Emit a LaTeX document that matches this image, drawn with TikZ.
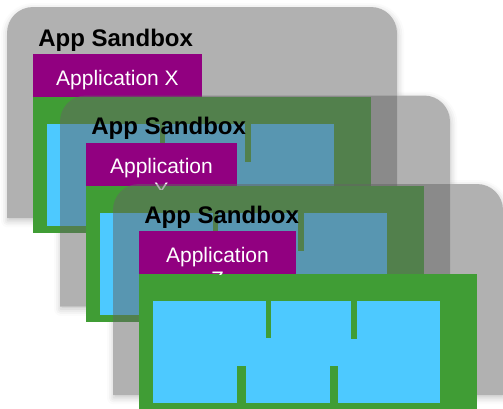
\documentclass[tikz,border=0pt]{standalone}
\usepackage{fontspec}
\setmainfont{Liberation Sans}
\usetikzlibrary{shadows.blur}

\definecolor{sandboxgray}{RGB}{100,100,100}
\definecolor{appmagenta}{RGB}{145,0,128}
\definecolor{regiongreen}{RGB}{64,157,53}
\definecolor{blockblue}{RGB}{77,201,255}

\tikzset{
  sandbox/.style={fill=sandboxgray, fill opacity=0.5},
  sandboxshadow/.style={blur shadow={shadow xshift=0.5pt, shadow yshift=-2pt,
    shadow blur radius=5pt, shadow opacity=24}},
  sandboxtitle/.style={anchor=base west, inner sep=0pt, text=black,
    font=\bfseries\fontsize{18}{21.6}\selectfont},
  applabel/.style={anchor=base, inner sep=0pt, text=white,
    font=\fontsize{15.75}{18.9}\selectfont},
}

% outline of a sandbox panel: rounded on top, square at the bottom
\newcommand\sandboxoutline{(7,218) -- (7,33) .. controls (7,18.6) and (18.6,7) .. (33,7)
  -- (371,7) .. controls (385.4,7) and (397,18.6) .. (397,33) -- (397,218) -- cycle}

% One sandbox layer: #1 id, #2/#3 shift, #4 right edge of the app bar,
% #5/#6 the two lines of the app name, #7 lower edge of the visible name
\newcommand\sandboxlayer[7]{%
  \begin{scope}[shift={(#2,#3)}]
    \fill[sandbox] \sandboxoutline;
    \node[sandboxtitle] (title#1) at (38,46) {App Sandbox};
    \fill[appmagenta] (33,54) rectangle (#4,97);
    \fill[regiongreen] (33,97) rectangle (371,233);
    \fill[blockblue] (47,124) rectangle (334,226);
    \fill[regiongreen] (160,124) rectangle (165,161);
    \fill[regiongreen] (245,124) rectangle (251,162);
    \fill[regiongreen] (131,189) rectangle (140,226);
    \fill[regiongreen] (224,189) rectangle (232,226);
    \begin{scope}
      \clip (33,54) rectangle (#4,#7);
      \node[applabel] (app#1) at ({(33+#4)/2},85) {#5};
      \node[applabel] (app#1b) at ({(33+#4)/2},109) {#6};
    \end{scope}
  \end{scope}}

\begin{document}
\begin{tikzpicture}[x=0.75pt, y=-0.75pt]
  \useasboundingbox (0,0) rectangle (503,408);
  \clip (0,0) rectangle (503,408);
  % soft shadows on the page, then the panel areas cleared again
  \foreach \dx/\dy in {0/0, 53/88.5, 106/177}
    \path[shift={(\dx,\dy)}, sandboxshadow] \sandboxoutline;
  \foreach \dx/\dy in {0/0, 53/88.5, 106/177}
    \fill[shift={(\dx,\dy)}, white] \sandboxoutline;
  % the three stacked sandboxes, back to front
  \sandboxlayer{x}{0}{0}{202}{Application X}{}{97}
  \sandboxlayer{y}{53}{88.5}{184}{Application}{Y}{101}
  \sandboxlayer{z}{106}{177}{190}{Application}{Z}{97}
\end{tikzpicture}
\end{document}
